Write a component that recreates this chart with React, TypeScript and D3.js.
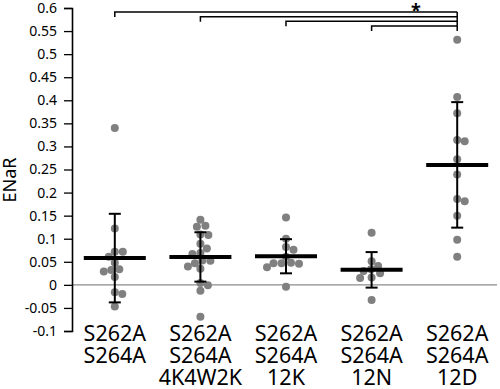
import { useEffect, useRef } from "react";
import * as d3 from "d3";

// group labels (one line per array entry)
const groupLabels = [
  ["S262A", "S264A"],
  ["S262A", "S264A", "4K4W2K"],
  ["S262A", "S264A", "12K"],
  ["S262A", "S264A", "12N"],
  ["S262A", "S264A", "12D"],
];

// individual ENaR values
const dblMutant = [0.34, 0.122, 0.0715, 0.0715, 0.061, 0.048, 0.032, 0.034, 0.029, 0.017, -0.016, -0.02, -0.047];
const mut4K4W2K = [0.141, 0.126, 0.128, 0.108, 0.109, 0.089, 0.079, 0.067, 0.069, 0.053, 0.052, 0.047, 0.04, 0.035, 0.004, -0.001, -0.013, -0.069];
const mut12K = [0.146, 0.1, 0.082, 0.076, 0.061, 0.047, 0.038, 0.047, 0.048, 0.046, -0.004];
const mut12N = [0.113, 0.051, 0.041, 0.034, 0.03, 0.025, 0.015, 0.016, -0.033];
const mut12D = [0.531, 0.407, 0.372, 0.311, 0.314, 0.272, 0.239, 0.181, 0.186, 0.15, 0.0975, 0.061];
const groupValues = [dblMutant, mut4K4W2K, mut12K, mut12N, mut12D];

// mean and SD per group
const means = [0.058, 0.0605, 0.062, 0.0325, 0.26];
const sds = [0.096, 0.0535, 0.037, 0.0385, 0.136];

const yTickValues = [-0.1, -0.05, 0, 0.05, 0.1, 0.15, 0.2, 0.25, 0.3, 0.35, 0.4, 0.45, 0.5, 0.55, 0.6];

// significance: each of these groups vs. the last one
const comparedGroups = [0, 1, 2, 3];
const significantLabel = "*";

const width = 500;
const height = 389;
const margin = { top: 8, right: 0, bottom: 58, left: 72 };
const dotR = 4;

function swarmOffsets(vals: number[], y: (v: number) => number, minDist: number) {
  const order = vals.map((v, i) => ({ v, i })).sort((a, b) => b.v - a.v);
  const placed: { x: number; y: number }[] = [];
  const out: number[] = new Array(vals.length).fill(0);
  for (const p of order) {
    const py = y(p.v);
    let off = 0;
    for (let k = 0; k < 400; k++) {
      const cand = k === 0 ? 0 : (k % 2 ? 1 : -1) * Math.ceil(k / 2) * 0.5;
      if (placed.every((q) => Math.hypot(q.x - cand, q.y - py) >= minDist)) {
        off = cand;
        break;
      }
    }
    placed.push({ x: off, y: py });
    out[p.i] = off;
  }
  return out;
}

export default function App() {
  const svgRef = useRef<SVGSVGElement>(null);

  useEffect(() => {
    if (!svgRef.current) return;
    const svg = d3.select(svgRef.current);
    svg.selectAll("*").remove();

    const font = "'Noto Sans', sans-serif";

    const x = d3
      .scaleBand<number>()
      .domain(d3.range(groupLabels.length))
      .range([margin.left, width - margin.right]);
    const y = d3
      .scaleLinear()
      .domain([-0.1, 0.6])
      .range([height - margin.bottom, margin.top]);
    const cx = (i: number) => (x(i) ?? 0) + x.bandwidth() / 2;

    // zero line
    svg
      .append("line")
      .attr("x1", margin.left)
      .attr("x2", width - 3)
      .attr("y1", y(0))
      .attr("y2", y(0))
      .attr("stroke", "#8c8c8c")
      .attr("stroke-width", 1.2);

    // y axis
    const yAxis = svg
      .append("g")
      .attr("transform", `translate(${margin.left},0)`)
      .call(
        d3
          .axisLeft(y)
          .tickValues(yTickValues)
          .tickSize(8)
          .tickPadding(7)
          .tickFormat((d) => String(+(+d).toFixed(2)))
      );
    yAxis.select(".domain").attr("stroke", "#000").attr("stroke-width", 1.6);
    yAxis.selectAll(".tick line").attr("stroke", "#000").attr("stroke-width", 1.3);
    yAxis
      .selectAll(".tick text")
      .attr("font-family", font)
      .attr("font-size", 14)
      .attr("fill", "#000");

    // y title
    svg
      .append("text")
      .attr("transform", `translate(16,180) rotate(-90)`)
      .attr("text-anchor", "middle")
      .attr("font-family", font)
      .attr("font-size", 18)
      .attr("fill", "#000")
      .text("ENaR");

    // dots
    groupValues.forEach((vals, gi) => {
      const offs = swarmOffsets(vals, y, 7.6);
      svg
        .append("g")
        .selectAll("circle")
        .data(vals)
        .enter()
        .append("circle")
        .attr("cx", (_, i) => cx(gi) + offs[i])
        .attr("cy", (d) => y(d))
        .attr("r", dotR)
        .attr("fill", "#808080");
    });

    // mean + SD
    const bars = svg.append("g");
    means.forEach((m, gi) => {
      const c = cx(gi);
      const lo = y(m - sds[gi]);
      const hi = y(m + sds[gi]);
      bars.append("line").attr("x1", c).attr("x2", c).attr("y1", hi).attr("y2", lo)
        .attr("stroke", "#000").attr("stroke-width", 2);
      [hi, lo].forEach((yy) =>
        bars.append("line").attr("x1", c - 6).attr("x2", c + 6).attr("y1", yy).attr("y2", yy)
          .attr("stroke", "#000").attr("stroke-width", 2)
      );
      bars.append("line").attr("x1", c - 31).attr("x2", c + 31).attr("y1", y(m)).attr("y2", y(m))
        .attr("stroke", "#000").attr("stroke-width", 4);
    });

    // significance brackets
    const last = groupLabels.length - 1;
    const levelY = d3.scaleLinear().domain([0, comparedGroups.length - 1]).range([12, 26]);
    const br = svg.append("g").attr("stroke", "#000").attr("stroke-width", 1.5).attr("fill", "none");
    comparedGroups.forEach((g, k) => {
      const ly = levelY(k);
      br.append("path").attr("d", `M${cx(g)},${ly + 5}V${ly}H${cx(last)}`);
    });
    br.append("line").attr("x1", cx(last)).attr("x2", cx(last)).attr("y1", levelY(0)).attr("y2", 31);
    svg
      .append("text")
      .attr("x", 416)
      .attr("y", 17)
      .attr("text-anchor", "middle")
      .attr("font-family", font)
      .attr("font-size", 18)
      .attr("font-weight", "bold")
      .attr("fill", "#000")
      .text(significantLabel);

    // category labels
    groupLabels.forEach((lines, gi) => {
      const t = svg
        .append("text")
        .attr("text-anchor", "middle")
        .attr("font-family", font)
        .attr("font-size", 21.5)
        .attr("fill", "#000");
      lines.forEach((ln, li) => {
        t.append("tspan").attr("x", cx(gi)).attr("y", 341 + li * 22).text(ln);
      });
    });
  }, []);

  return (
    <div style={{ position: "absolute", left: 0, top: 0, background: "#fff" }}>
      <svg ref={svgRef} width={width} height={height} style={{ display: "block" }} />
    </div>
  );
}
